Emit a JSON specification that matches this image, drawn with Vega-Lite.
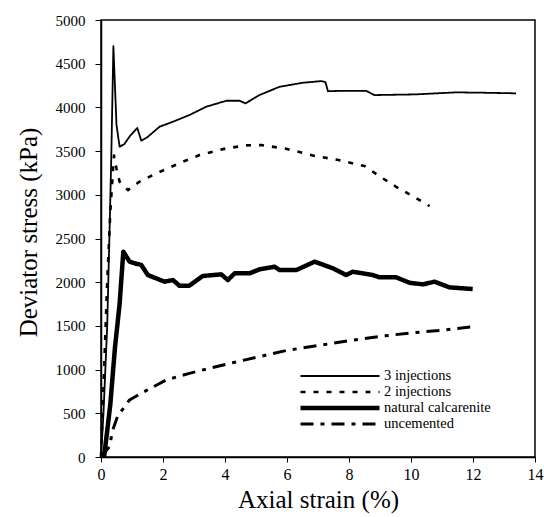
{
  "$schema": "https://vega.github.io/schema/vega-lite/v6.json",
  "autosize": {"type": "none"},
  "padding": {"left": 101, "top": 20, "right": 9, "bottom": 60},
  "width": 434,
  "height": 437,
  "background": "white",
  "config": {
    "view": {"stroke": "black", "strokeWidth": 1.5},
    "font": "Liberation Serif",
    "axis": {
      "grid": false,
      "domainColor": "black",
      "domainWidth": 1.5,
      "tickColor": "black",
      "tickWidth": 1,
      "labelColor": "black",
      "titleColor": "black",
      "labelFont": "Liberation Serif",
      "titleFont": "Liberation Serif",
      "titleFontWeight": "normal"
    }
  },
  "data": {
    "values": [
      {"s": "3 injections", "i": 1, "x": 0, "y": 0},
      {"s": "3 injections", "i": 2, "x": 0.08, "y": 500},
      {"s": "3 injections", "i": 3, "x": 0.2, "y": 1500},
      {"s": "3 injections", "i": 4, "x": 0.27, "y": 2500},
      {"s": "3 injections", "i": 5, "x": 0.33, "y": 3400},
      {"s": "3 injections", "i": 6, "x": 0.4, "y": 4700},
      {"s": "3 injections", "i": 7, "x": 0.5, "y": 3800},
      {"s": "3 injections", "i": 8, "x": 0.6, "y": 3550},
      {"s": "3 injections", "i": 9, "x": 0.75, "y": 3580},
      {"s": "3 injections", "i": 10, "x": 0.95, "y": 3680},
      {"s": "3 injections", "i": 11, "x": 1.17, "y": 3764},
      {"s": "3 injections", "i": 12, "x": 1.3, "y": 3620},
      {"s": "3 injections", "i": 13, "x": 1.5, "y": 3660},
      {"s": "3 injections", "i": 14, "x": 1.89, "y": 3779},
      {"s": "3 injections", "i": 15, "x": 2.32, "y": 3836},
      {"s": "3 injections", "i": 16, "x": 2.85, "y": 3912},
      {"s": "3 injections", "i": 17, "x": 3.39, "y": 4007},
      {"s": "3 injections", "i": 18, "x": 4.04, "y": 4076},
      {"s": "3 injections", "i": 19, "x": 4.47, "y": 4076},
      {"s": "3 injections", "i": 20, "x": 4.66, "y": 4046},
      {"s": "3 injections", "i": 21, "x": 5.11, "y": 4141},
      {"s": "3 injections", "i": 22, "x": 5.76, "y": 4236},
      {"s": "3 injections", "i": 23, "x": 6.51, "y": 4282},
      {"s": "3 injections", "i": 24, "x": 7.1, "y": 4301},
      {"s": "3 injections", "i": 25, "x": 7.24, "y": 4290},
      {"s": "3 injections", "i": 26, "x": 7.32, "y": 4185},
      {"s": "3 injections", "i": 27, "x": 7.6, "y": 4188},
      {"s": "3 injections", "i": 28, "x": 8.55, "y": 4190},
      {"s": "3 injections", "i": 29, "x": 8.82, "y": 4141},
      {"s": "3 injections", "i": 30, "x": 10.17, "y": 4149},
      {"s": "3 injections", "i": 31, "x": 11.46, "y": 4172},
      {"s": "3 injections", "i": 32, "x": 12.32, "y": 4168},
      {"s": "3 injections", "i": 33, "x": 13.39, "y": 4161},
      {"s": "2 injections", "i": 1, "x": 0, "y": 0},
      {"s": "2 injections", "i": 2, "x": 0.1, "y": 1000},
      {"s": "2 injections", "i": 3, "x": 0.2, "y": 2000},
      {"s": "2 injections", "i": 4, "x": 0.3, "y": 2800},
      {"s": "2 injections", "i": 5, "x": 0.38, "y": 3250},
      {"s": "2 injections", "i": 6, "x": 0.42, "y": 3450},
      {"s": "2 injections", "i": 7, "x": 0.5, "y": 3300},
      {"s": "2 injections", "i": 8, "x": 0.6, "y": 3150},
      {"s": "2 injections", "i": 9, "x": 0.87, "y": 3054},
      {"s": "2 injections", "i": 10, "x": 1.24, "y": 3150},
      {"s": "2 injections", "i": 11, "x": 1.78, "y": 3245},
      {"s": "2 injections", "i": 12, "x": 2.64, "y": 3378},
      {"s": "2 injections", "i": 13, "x": 3.18, "y": 3455},
      {"s": "2 injections", "i": 14, "x": 4.04, "y": 3531},
      {"s": "2 injections", "i": 15, "x": 4.68, "y": 3565},
      {"s": "2 injections", "i": 16, "x": 5.17, "y": 3569},
      {"s": "2 injections", "i": 17, "x": 5.97, "y": 3527},
      {"s": "2 injections", "i": 18, "x": 6.83, "y": 3450},
      {"s": "2 injections", "i": 19, "x": 7.66, "y": 3398},
      {"s": "2 injections", "i": 20, "x": 8.5, "y": 3329},
      {"s": "2 injections", "i": 21, "x": 9.09, "y": 3188},
      {"s": "2 injections", "i": 22, "x": 9.52, "y": 3092},
      {"s": "2 injections", "i": 23, "x": 10.17, "y": 2960},
      {"s": "2 injections", "i": 24, "x": 10.6, "y": 2871},
      {"s": "natural calcarenite", "i": 1, "x": 0.1, "y": 0},
      {"s": "natural calcarenite", "i": 2, "x": 0.3, "y": 600},
      {"s": "natural calcarenite", "i": 3, "x": 0.45, "y": 1250},
      {"s": "natural calcarenite", "i": 4, "x": 0.6, "y": 1750},
      {"s": "natural calcarenite", "i": 5, "x": 0.67, "y": 2100},
      {"s": "natural calcarenite", "i": 6, "x": 0.72, "y": 2349},
      {"s": "natural calcarenite", "i": 7, "x": 0.92, "y": 2235},
      {"s": "natural calcarenite", "i": 8, "x": 1.1, "y": 2215},
      {"s": "natural calcarenite", "i": 9, "x": 1.3, "y": 2197},
      {"s": "natural calcarenite", "i": 10, "x": 1.51, "y": 2082},
      {"s": "natural calcarenite", "i": 11, "x": 2.05, "y": 2006},
      {"s": "natural calcarenite", "i": 12, "x": 2.32, "y": 2025},
      {"s": "natural calcarenite", "i": 13, "x": 2.53, "y": 1960},
      {"s": "natural calcarenite", "i": 14, "x": 2.85, "y": 1960},
      {"s": "natural calcarenite", "i": 15, "x": 3.28, "y": 2071},
      {"s": "natural calcarenite", "i": 16, "x": 3.88, "y": 2090},
      {"s": "natural calcarenite", "i": 17, "x": 4.09, "y": 2025},
      {"s": "natural calcarenite", "i": 18, "x": 4.31, "y": 2101},
      {"s": "natural calcarenite", "i": 19, "x": 4.79, "y": 2101},
      {"s": "natural calcarenite", "i": 20, "x": 5.11, "y": 2147},
      {"s": "natural calcarenite", "i": 21, "x": 5.6, "y": 2177},
      {"s": "natural calcarenite", "i": 22, "x": 5.76, "y": 2139},
      {"s": "natural calcarenite", "i": 23, "x": 6.3, "y": 2139},
      {"s": "natural calcarenite", "i": 24, "x": 6.89, "y": 2235},
      {"s": "natural calcarenite", "i": 25, "x": 7.48, "y": 2159},
      {"s": "natural calcarenite", "i": 26, "x": 7.91, "y": 2082},
      {"s": "natural calcarenite", "i": 27, "x": 8.12, "y": 2120},
      {"s": "natural calcarenite", "i": 28, "x": 8.77, "y": 2082},
      {"s": "natural calcarenite", "i": 29, "x": 8.98, "y": 2056},
      {"s": "natural calcarenite", "i": 30, "x": 9.52, "y": 2056},
      {"s": "natural calcarenite", "i": 31, "x": 9.95, "y": 1994},
      {"s": "natural calcarenite", "i": 32, "x": 10.38, "y": 1975},
      {"s": "natural calcarenite", "i": 33, "x": 10.76, "y": 2006},
      {"s": "natural calcarenite", "i": 34, "x": 11.24, "y": 1941},
      {"s": "natural calcarenite", "i": 35, "x": 11.99, "y": 1922},
      {"s": "uncemented", "i": 1, "x": 0, "y": 0},
      {"s": "uncemented", "i": 2, "x": 0.27, "y": 118},
      {"s": "uncemented", "i": 3, "x": 0.38, "y": 309},
      {"s": "uncemented", "i": 4, "x": 0.54, "y": 470},
      {"s": "uncemented", "i": 5, "x": 0.92, "y": 652},
      {"s": "uncemented", "i": 6, "x": 1.3, "y": 729},
      {"s": "uncemented", "i": 7, "x": 2.1, "y": 881},
      {"s": "uncemented", "i": 8, "x": 2.85, "y": 957},
      {"s": "uncemented", "i": 9, "x": 3.5, "y": 1015},
      {"s": "uncemented", "i": 10, "x": 4.25, "y": 1079},
      {"s": "uncemented", "i": 11, "x": 5.0, "y": 1140},
      {"s": "uncemented", "i": 12, "x": 6, "y": 1220},
      {"s": "uncemented", "i": 13, "x": 7, "y": 1275},
      {"s": "uncemented", "i": 14, "x": 8, "y": 1330},
      {"s": "uncemented", "i": 15, "x": 9, "y": 1380},
      {"s": "uncemented", "i": 16, "x": 10, "y": 1420},
      {"s": "uncemented", "i": 17, "x": 11, "y": 1450},
      {"s": "uncemented", "i": 18, "x": 12, "y": 1490}
    ]
  },
  "mark": {"type": "line", "color": "black", "strokeJoin": "round"},
  "encoding": {
    "x": {
      "field": "x", "type": "quantitative",
      "scale": {"domain": [0, 14], "nice": false},
      "axis": {"values": [0, 2, 4, 6, 8, 10, 12, 14], "title": "Axial strain (%)", "labelFontSize": 16, "titleFontSize": 25, "tickSize": 5, "labelPadding": 4, "titlePadding": 5, "labelFlush": false}
    },
    "y": {
      "field": "y", "type": "quantitative",
      "scale": {"domain": [0, 5000], "nice": false},
      "axis": {"values": [0, 500, 1000, 1500, 2000, 2500, 3000, 3500, 4000, 4500, 5000], "format": "d", "title": "Deviator stress (kPa)", "labelFontSize": 15, "titleFontSize": 25, "tickSize": 6, "labelPadding": 10, "titlePadding": 14, "titleY": 212, "labelFlush": false}
    },
    "order": {"field": "i", "type": "quantitative"},
    "strokeDash": {
      "field": "s", "type": "nominal",
      "scale": {"type": "ordinal", "domain": ["3 injections", "2 injections", "natural calcarenite", "uncemented"], "range": [[1, 0], [5, 8], [1, 0], [13, 7, 4, 7]]},
      "legend": {"title": null}
    },
    "strokeWidth": {
      "field": "s", "type": "nominal",
      "scale": {"type": "ordinal", "domain": ["3 injections", "2 injections", "natural calcarenite", "uncemented"], "range": [1.8, 2.6, 4.5, 3]},
      "legend": {
        "title": null,
        "orient": "none",
        "legendX": 197,
        "legendY": 348,
        "symbolType": "stroke",
        "symbolSize": 6241,
        "symbolStrokeColor": "black",
        "clipHeight": 16,
        "rowPadding": 0,
        "labelOffset": 2,
        "labelFont": "Liberation Serif",
        "labelFontSize": 14.5,
        "labelColor": "black",
        "padding": 0
      }
    }
  }
}
